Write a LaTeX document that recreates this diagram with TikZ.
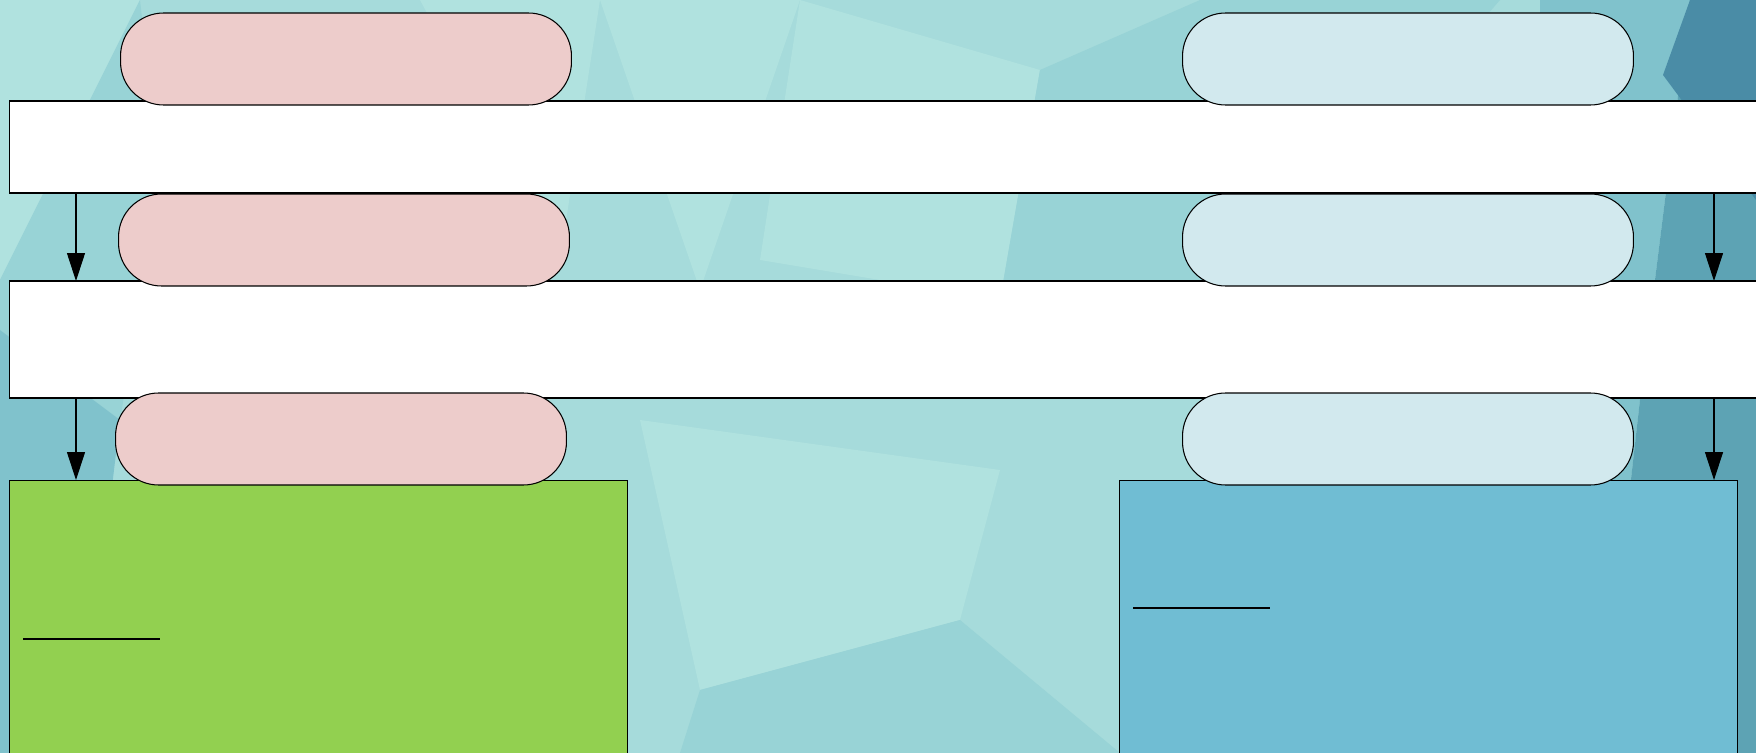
\documentclass[tikz,border=0pt]{standalone}
\usetikzlibrary{arrows.meta, positioning}
\definecolor{bgbase}{HTML}{A6DBDB}
\definecolor{bglight}{HTML}{B0E2DF}
\definecolor{bgmid}{HTML}{98D3D6}
\definecolor{bgdark}{HTML}{80C2CC}
\definecolor{bgdeep}{HTML}{5DA3B4}
\definecolor{bgdeepest}{HTML}{4A8CA6}
\definecolor{pillpink}{HTML}{EDCCCB}
\definecolor{pillblue}{HTML}{D2E9EE}
\definecolor{greencol}{HTML}{92D050}
\definecolor{bluecol}{HTML}{70BDD3}

\begin{document}
\begin{tikzpicture}[
    x=0.02cm, y=-0.02cm,
    >=Stealth,
    pill/.style={
        draw, rounded corners=0.86cm, minimum width=9.02cm, minimum height=1.84cm,
        inner sep=0pt, outer sep=0pt, line width=0.6pt
    },
    bar/.style={
        draw, fill=white, minimum width=35.62cm, inner sep=0pt, outer sep=0pt,
        line width=0.6pt
    },
    panel/.style={
        draw, minimum width=12.38cm, minimum height=6.4cm, inner sep=0pt,
        outer sep=0pt, line width=0.6pt
    },
    arrow/.style={-{Triangle[length=0.56cm, width=0.36cm]}, line width=0.6pt},
    rule/.style={line width=1.5pt},
]

% ===== Frame and background =====
\useasboundingbox (0,0) rectangle (1756,753);
\clip (0,0) rectangle (1756,753);
\fill[bgbase] (0,0) rectangle (1756,753);
\fill[bglight] (0,0) -- (140,0) -- (0,280) -- cycle;
\fill[bgmid] (0,280) -- (140,0) -- (160,180) -- (120,420) -- (0,330) -- cycle;
\fill[bgdark] (0,330) -- (120,420) -- (80,753) -- (0,753) -- cycle;
\fill[bglight] (600,0) -- (800,0) -- (700,290) -- cycle;
\fill[bglight] (420,0) -- (600,0) -- (560,260) -- cycle;
\fill[bglight] (640,420) -- (1000,470) -- (960,620) -- (700,690) -- cycle;
\fill[bgmid] (700,690) -- (960,620) -- (1120,753) -- (680,753) -- cycle;
\fill[bglight] (800,0) -- (1040,70) -- (1000,300) -- (760,260) -- cycle;
\fill[bgmid] (1040,70) -- (1200,0) -- (1500,0) -- (1240,300) -- (1000,300) -- cycle;
\fill[bgdark] (1540,0) -- (1690,0) -- (1640,400) -- (1600,753) -- (1540,753) -- cycle;
\fill[bgdeep] (1690,0) -- (1756,0) -- (1756,753) -- (1600,753) -- (1640,400) -- cycle;
\fill[bgdeepest] (1690,0) -- (1756,0) -- (1756,200) -- (1663,75) -- cycle;

% ===== Bars =====
\node[bar, minimum height=1.84cm] (barTop) at (899.5,147) {};
\node[bar, minimum height=2.34cm] (barMid) at (899.5,339.5) {};

% ===== Panels =====
\node[panel, fill=greencol] (leftBox) at (318.5,640) {};
\node[panel, fill=bluecol] (rightBox) at (1428.5,640) {};

% ===== Pills, left column =====
\node[pill, fill=pillpink] (pillLa) at (346,59) {};
\node[pill, fill=pillpink] (pillLb) at (344,240) {};
\node[pill, fill=pillpink] (pillLc) at (341,439) {};

% ===== Pills, right column =====
\node[pill, fill=pillblue] (pillRa) at (1408,59) {};
\node[pill, fill=pillblue] (pillRb) at (1408,240) {};
\node[pill, fill=pillblue] (pillRc) at (1408,439) {};

% ===== Arrows =====
\coordinate (lcol) at (76,0);
\coordinate (rcol) at (1714,0);
\draw[arrow] (barTop.south -| lcol) -- (barMid.north -| lcol);
\draw[arrow] (barMid.south -| lcol) -- (leftBox.north -| lcol);
\draw[arrow] (barTop.south -| rcol) -- (barMid.north -| rcol);
\draw[arrow] (barMid.south -| rcol) -- (rightBox.north -| rcol);

% ===== Short rules in panels =====
\coordinate (gruleA) at (23,639);
\coordinate (gruleB) at (160,639);
\coordinate (bruleA) at (1133,608);
\coordinate (bruleB) at (1270,608);
\draw[rule] (gruleA) -- (gruleB);
\draw[rule] (bruleA) -- (bruleB);

\end{tikzpicture}
\end{document}
